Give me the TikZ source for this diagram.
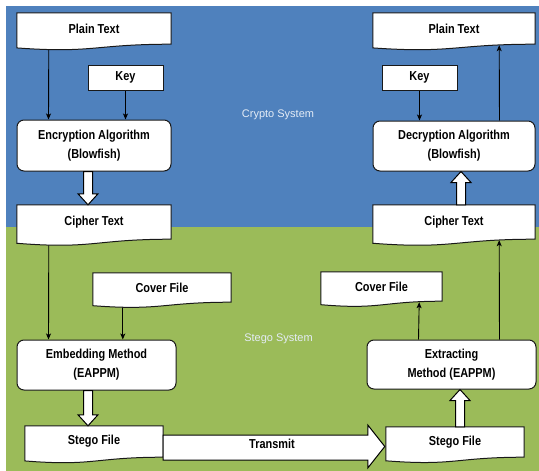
\documentclass[tikz,border=0pt]{standalone}
\usepackage{fontspec}
\setmainfont{Liberation Sans}[FakeStretch=0.84]
\newfontfamily\labelfont{Liberation Sans}
\usetikzlibrary{arrows.meta,calc}
\pgfdeclarelayer{bg}
\pgfdeclarelayer{conn}
\pgfsetlayers{bg,conn,main}
\definecolor{cryptoblue}{HTML}{4F81BD}
\definecolor{stegogreen}{HTML}{9BBB59}
\definecolor{labelgray}{HTML}{E4ECF6}
\tikzset{
  boxline/.style={draw=black!90, line width=1pt, fill=white},
  plainbox/.style={boxline, inner sep=0pt, font=\bfseries\fontsize{13}{19}\selectfont, align=center},
  procbox/.style={plainbox, rounded corners=7pt},
  docanchor/.style={inner sep=0pt, draw=none},
  doctext/.style={inner sep=0pt, font=\bfseries\fontsize{13}{19}\selectfont},
  conn/.style={draw=black, line width=0.9pt, -{Stealth[length=6pt,width=5pt,inset=1.5pt]}},
  blockarrow/.style={draw=black, line width=1pt, fill=white, line join=miter},
  syslabel/.style={font=\labelfont\fontsize{11}{13}\selectfont, text=labelgray},
}
\newcommand{\docnode}[6]{%
  \node[docanchor, minimum width=#4pt, minimum height=#5pt] (#1) at (#2,{#3+#5/2}) {};
  \draw[boxline] (#1.north west) -- (#1.north east) -- (#1.south east)
    .. controls (#1.south) and ([yshift={-0.3*#5pt}]#1.south) .. ([yshift={-0.12*#5pt}]#1.south west) -- cycle;
  \node[doctext] (#1t) at (#1) {#6};
}
\newcommand{\vblock}[3]{%
  \draw[blockarrow] let \p1=(#1), \p2=(#2), \n1={\y2+(#3)} in
    (\x1-4.5pt,\y1) -- (\x1-4.5pt,\n1) -- (\x1-10pt,\n1) -- (\x1,\y2) --
    (\x1+10pt,\n1) -- (\x1+4.5pt,\n1) -- (\x1+4.5pt,\y1) -- cycle;
}
\begin{document}
\begin{tikzpicture}[x=1pt,y=-1pt]
\useasboundingbox (0,0) rectangle (539,471);
\begin{pgfonlayer}{bg}
  \fill[cryptoblue] (6,6) rectangle (539,227);
  \fill[stegogreen] (6,227) rectangle (539,471);
\end{pgfonlayer}

\node[syslabel] (crypto) at (278,115) {Crypto System};
\node[syslabel] (stego) at (278.5,339) {Stego System};

% crypto, left
\docnode{ptL}{94}{13}{154}{31}{Plain Text}
\node[plainbox, minimum width=75pt, minimum height=25pt] (keyL) at (125.5,77.5) {Key};
\node[procbox, minimum width=154pt, minimum height=51pt] (enc) at (94,145.5) {Encryption Algorithm\\(Blowfish)};
\docnode{ctL}{94}{205}{154}{34}{Cipher Text}

% crypto, right
\docnode{ptR}{454}{13}{162}{31}{Plain Text}
\node[plainbox, minimum width=75pt, minimum height=25pt] (keyR) at (419.5,77.5) {Key};
\node[procbox, minimum width=162pt, minimum height=50pt] (dec) at (454,146) {Decryption Algorithm\\(Blowfish)};
\docnode{ctR}{454}{205}{162}{34}{Cipher Text}

% stego, left
\docnode{cfL}{162}{273}{138}{29}{Cover File}
\node[procbox, minimum width=159pt, minimum height=50pt] (emb) at (96.5,365) {Embedding Method\\(EAPPM)};
\docnode{sfL}{94}{426}{138}{31}{Stego File}

% stego, right
\docnode{cfR}{381.5}{272}{121}{29}{Cover File}
\node[procbox, minimum width=169pt, minimum height=49pt] (ext) at (451.5,364.5) {Extracting\\Method (EAPPM)};
\docnode{sfR}{455}{427}{138}{30}{Stego File}

% thin connectors
\begin{pgfonlayer}{conn}
  \draw[conn] ([xshift=32pt]ptL.south west) -- ([xshift=32pt]enc.north west);
  \draw[conn] (keyL.south) -- (keyL.south |- enc.north);
  \draw[conn] ([xshift=32pt]ctL.south west) -- ([xshift=32pt]emb.north west);
  \draw[conn] ([xshift=30pt]cfL.south west) -- ([xshift=30pt]cfL.south west |- emb.north);
  \draw[conn] (keyR.south) -- (keyR.south |- dec.north);
  \draw[conn] ([xshift=-36pt]dec.north east) -- ([xshift=-36pt,yshift=-1pt]ptR.south east);
  \draw[conn] ([xshift=-37pt]ext.north east) -- ([xshift=-36pt,yshift=-1pt]ctR.south east);
  \draw[conn] ([xshift=52pt]ext.north west) -- ([xshift=-23pt,yshift=-1pt]cfR.south east);
\end{pgfonlayer}

% block arrows
\vblock{[xshift=-6pt]enc.south}{ctL.north}{11pt}
\vblock{[xshift=-8.5pt]emb.south}{sfL.north}{11pt}
\vblock{[xshift=7pt]ctR.north}{dec.south}{-11pt}
\vblock{[xshift=5pt]sfR.north}{ext.south}{-11pt}
\draw[blockarrow] let \p1=(sfL.east), \p2=(sfR.west) in
  (\x1,\y1+6.5pt) -- (\x2-18pt,\y1+6.5pt) -- (\x2-18pt,\y1+16.5pt) -- (\x2-1pt,\y1-5pt) --
  (\x2-18pt,\y1-26.5pt) -- (\x2-18pt,\y1-18.5pt) -- (\x1,\y1-18.5pt) -- cycle;
\node[doctext] (tx) at (272,444) {Transmit};
\end{tikzpicture}
\end{document}
